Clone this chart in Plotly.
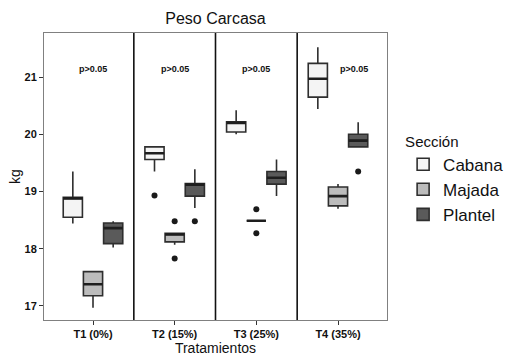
import plotly.graph_objects as go

categories = ["T1 (0%)", "T2 (15%)", "T3 (25%)", "T4 (35%)"]
groups = ["Cabana", "Majada", "Plantel"]

# precomputed box statistics per group, one value per category
lowerfence = {
    "Cabana":  [18.44, 19.35, 20.00, 20.44],
    "Majada":  [16.97, 18.07, 18.49, 18.70],
    "Plantel": [18.02, 18.71, 18.92, 19.78],
}
q1 = {
    "Cabana":  [18.55, 19.56, 20.04, 20.65],
    "Majada":  [17.18, 18.12, 18.49, 18.75],
    "Plantel": [18.09, 18.92, 19.13, 19.78],
}
median = {
    "Cabana":  [18.88, 19.67, 20.20, 20.97],
    "Majada":  [17.38, 18.25, 18.49, 18.92],
    "Plantel": [18.36, 19.12, 19.24, 19.89],
}
q3 = {
    "Cabana":  [18.90, 19.78, 20.22, 21.24],
    "Majada":  [17.60, 18.27, 18.49, 19.08],
    "Plantel": [18.45, 19.14, 19.35, 20.00],
}
upperfence = {
    "Cabana":  [19.35, 19.78, 20.42, 21.52],
    "Majada":  [17.60, 18.27, 18.49, 19.13],
    "Plantel": [18.48, 19.39, 19.56, 20.21],
}
# outliers: (category index, value)
outlier_cat = {"Cabana": [1], "Majada": [1, 1, 2, 2], "Plantel": [1, 3]}
outlier_val = {"Cabana": [18.93], "Majada": [18.48, 17.83, 18.69, 18.27], "Plantel": [18.48, 19.35]}

pvalue_labels = ["p>0.05", "p>0.05", "p>0.05", "p>0.05"]
pvalue_y = 21.14

fills = {"Cabana": "#f4f4f4", "Majada": "#bcbcbc", "Plantel": "#5a5a5a"}
offsets = {"Cabana": -0.247, "Majada": 0.0, "Plantel": 0.247}
box_w = 0.235

FONT = "Liberation Sans, Arial, sans-serif"

fig = go.Figure()
pos = list(range(1, len(categories) + 1))
for g in groups:
    xs = [p + offsets[g] for p in pos]
    fig.add_trace(go.Box(
        name=g, x=xs,
        q1=q1[g], median=median[g], q3=q3[g],
        lowerfence=lowerfence[g], upperfence=upperfence[g],
        width=box_w, fillcolor=fills[g],
        line=dict(color="#2e2e2e", width=1.6),
        whiskerwidth=0, boxpoints=False, showlegend=True,
    ))
    # thicker median bars
    fig.add_trace(go.Box(
        x=xs, q1=median[g], median=median[g], q3=median[g],
        lowerfence=median[g], upperfence=median[g],
        width=box_w, fillcolor="rgba(0,0,0,0)",
        line=dict(color="#1e1e1e", width=2.6),
        whiskerwidth=0, boxpoints=False, showlegend=False, hoverinfo="skip",
    ))
    fig.add_trace(go.Scatter(
        x=[pos[c] + offsets[g] for c in outlier_cat[g]], y=outlier_val[g],
        mode="markers", marker=dict(color="#1a1a1a", size=6),
        showlegend=False, hoverinfo="y",
    ))

for i, lab in enumerate(pvalue_labels):
    xp = pos[i] + (0.2 if i == 3 else 0.0)
    fig.add_annotation(x=xp, y=pvalue_y, text=f"<b>{lab}</b>", showarrow=False,
                       font=dict(family=FONT, size=9, color="#111"))

for i in range(len(categories) - 1):
    fig.add_shape(type="line", x0=pos[i] + 0.5, x1=pos[i] + 0.5, y0=0, y1=1,
                  xref="x", yref="paper", line=dict(color="#111", width=1.6))

fig.update_layout(
    width=509, height=364,
    margin=dict(l=44, r=122, t=33, b=44, autoexpand=False),
    paper_bgcolor="white", plot_bgcolor="white",
    title=dict(text="Peso Carcasa", x=(44 + 387) / 2 / 509, xanchor="center",
               y=1 - 18 / 364, yanchor="middle",
               font=dict(family=FONT, size=16, color="#111")),
    font=dict(family=FONT, color="#111"),
    legend=dict(title=dict(text="Sección", font=dict(size=15, family=FONT)),
                font=dict(size=17, family=FONT),
                x=1.047, y=0.672, xanchor="left", yanchor="top",
                tracegroupgap=0, itemwidth=30),
    showlegend=True,
)
fig.update_xaxes(
    range=[0.4, 4.6], tickvals=pos, ticktext=[f"<b>{c}</b>" for c in categories],
    tickfont=dict(size=11, family=FONT, color="#111"),
    ticks="outside", ticklen=4, tickcolor="#333",
    showline=True, linecolor="#808080", linewidth=1, mirror=True,
    showgrid=False, zeroline=False, automargin=False,
    title=dict(text="Tratamientos", font=dict(size=14, family=FONT), standoff=0),
)
fig.update_yaxes(
    range=[16.755, 21.77], tickvals=[17, 18, 19, 20, 21],
    ticktext=["<b>17</b>", "<b>18</b>", "<b>19</b>", "<b>20</b>", "<b>21</b>"],
    tickfont=dict(size=11, family=FONT, color="#111"),
    ticks="outside", ticklen=4, tickcolor="#333",
    showline=True, linecolor="#808080", linewidth=1, mirror=True,
    showgrid=False, zeroline=False, automargin=False,
    title=dict(text="kg", font=dict(size=14, family=FONT), standoff=0),
)

fig.write_html("out.html", config={"displayModeBar": False},
               post_script="document.body.style.margin='0';")
